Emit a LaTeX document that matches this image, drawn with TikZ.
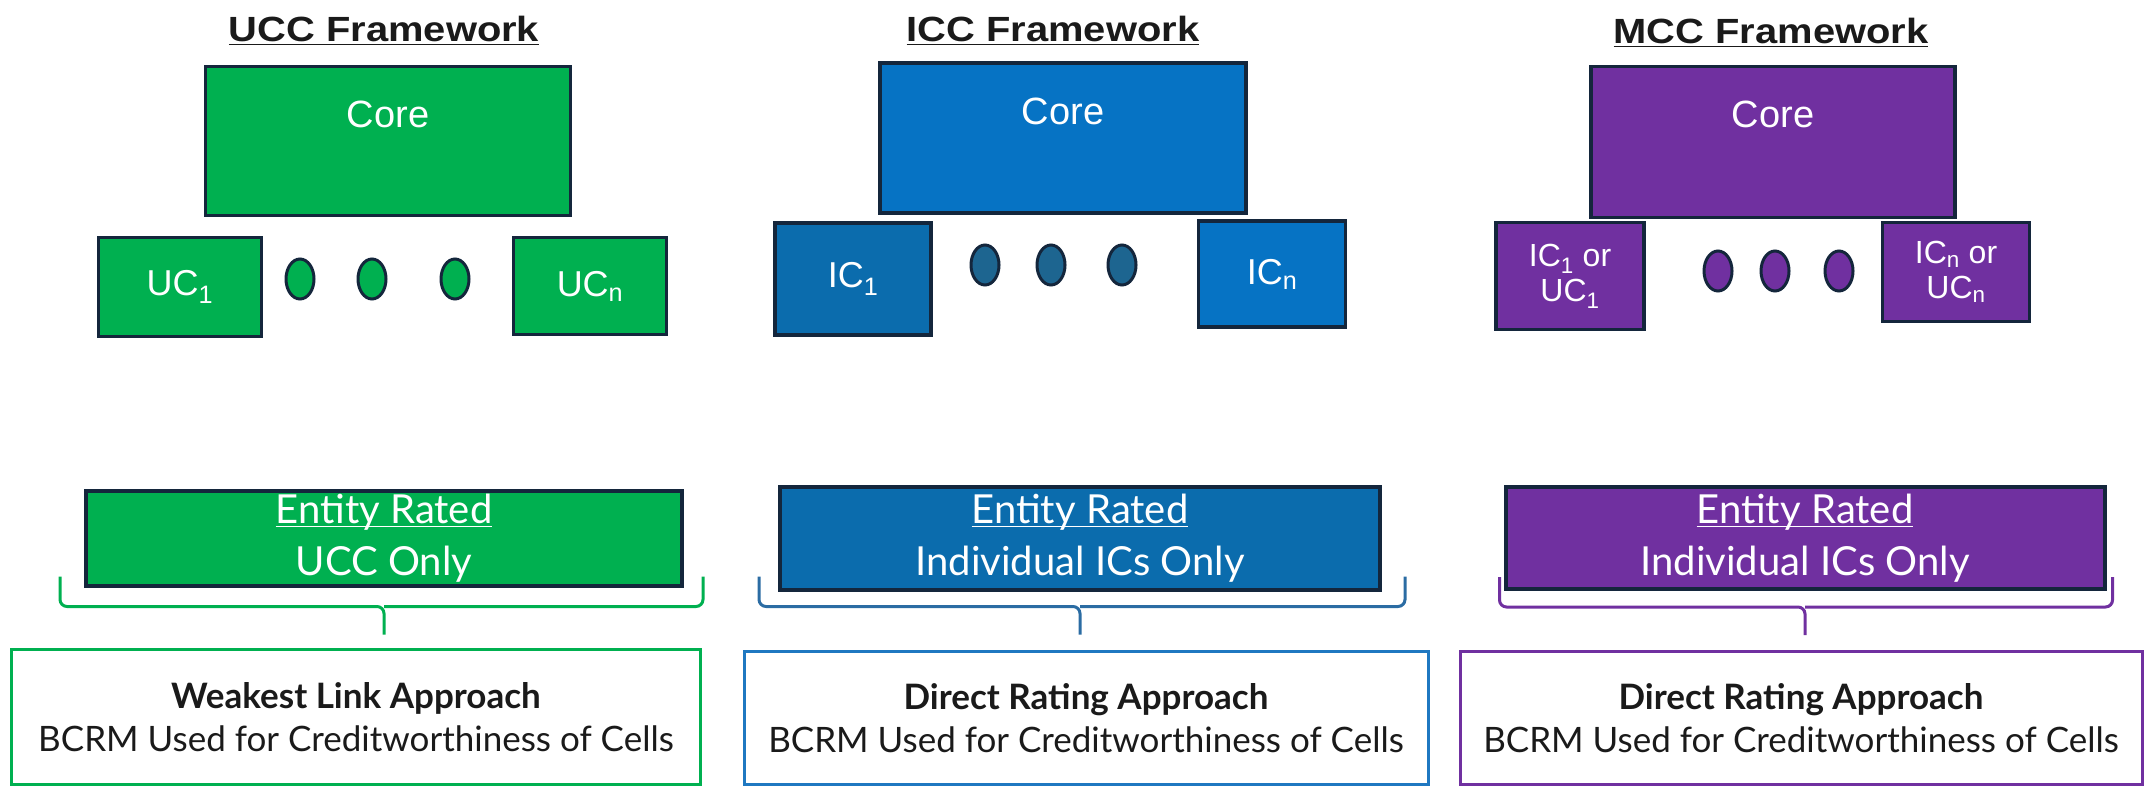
\documentclass[tikz,border=0pt]{standalone}
\usepackage{amsmath}
\usepackage{fontspec}
\setmainfont{Liberation Sans}
\newfontfamily\headfont[FakeStretch=1.14]{Liberation Sans}
\newfontfamily\aptos{Lato}
\usetikzlibrary{positioning,calc,shapes.geometric}

\definecolor{uccgreen}{HTML}{00B050}
\definecolor{iccblue}{HTML}{0673C4}
\definecolor{iccdark}{HTML}{0B6CAD}
\definecolor{iccdot}{HTML}{1D6590}
\definecolor{iccline}{HTML}{1F78C1}
\definecolor{iccbrace}{HTML}{2B6CA3}
\definecolor{mccpurple}{HTML}{7030A0}
\definecolor{edgenavy}{HTML}{14263C}
\definecolor{inkgray}{HTML}{1A1A1A}

\newcommand{\ratedhead}{\underline{\smash[b]{Entity Rated}}}

\tikzset{
  cellbox/.style={draw=edgenavy, line width=3.5pt, fill=#1, text=white, font=\fontsize{36}{40}\selectfont, align=center, inner sep=0pt},
  corebox/.style={cellbox=#1, label={[text=white, font=\fontsize{38}{44}\selectfont, anchor=center, yshift=-50pt]north:Core}},
  celldot/.style={ellipse, draw=edgenavy, line width=3pt, fill=#1, minimum width=28pt, minimum height=40pt, inner sep=0pt},
  fwtitle/.style={text=inkgray, font=\headfont\bfseries\fontsize{35}{40}\selectfont},
  ratedbox/.style={draw=edgenavy, line width=4pt, fill=#1, text=white, font=\aptos\fontsize{40}{52}\selectfont, align=center, inner sep=0pt},
  approachbox/.style={draw=#1, line width=3pt, fill=white, text=inkgray, font=\aptos\fontsize{35}{43}\selectfont, align=center, inner sep=0pt},
  curlybrace/.style={draw=#1, line width=3pt, rounded corners=7pt},
}

\begin{document}
\begin{tikzpicture}[x=1pt, y=-1pt]
    \useasboundingbox (0,0) rectangle (2151,787);

    % UCC framework
    \node[fwtitle] (utitle) at (384,31) {\underline{UCC Framework}};
    \node[corebox=uccgreen, minimum width=365pt, minimum height=149pt] (ucore) at (388,141) {};
    \node[cellbox=uccgreen, minimum width=163pt, minimum height=99pt] (ucell1) at (180,287) {UC\textsubscript{1}};
    \foreach \x [count=\i] in {300,372,455}
        \node[celldot=uccgreen] (udot\i) at (\x,279) {};
    \node[cellbox=uccgreen, minimum width=153pt, minimum height=97pt] (ucelln) at (590,286) {UC\textsubscript{n}};

    % ICC framework
    \node[fwtitle] (ititle) at (1053,31) {\underline{ICC Framework}};
    \node[corebox=iccblue, minimum width=366pt, minimum height=150pt] (icore) at (1063,138) {};
    \node[cellbox=iccdark, minimum width=156pt, minimum height=112pt] (icell1) at (853,279) {IC\textsubscript{1}};
    \foreach \x [count=\i] in {985,1051,1122}
        \node[celldot=iccdot] (idot\i) at (\x,265) {};
    \node[cellbox=iccblue, minimum width=147pt, minimum height=106pt] (icelln) at (1272,274) {IC\textsubscript{n}};

    % MCC framework
    \node[fwtitle] (mtitle) at (1771,33) {\underline{MCC Framework}};
    \node[corebox=mccpurple, minimum width=364pt, minimum height=151pt] (mcore) at (1773,142) {};
    \node[cellbox=mccpurple, font=\fontsize{32}{35}\selectfont, minimum width=148pt, minimum height=107pt] (mcell1) at (1570,276) {IC\textsubscript{1} or\\UC\textsubscript{1}};
    \foreach \x [count=\i] in {1718,1775,1839}
        \node[celldot=mccpurple] (mdot\i) at (\x,271) {};
    \node[cellbox=mccpurple, font=\fontsize{32}{35}\selectfont, minimum width=147pt, minimum height=99pt] (mcelln) at (1956,272) {IC\textsubscript{n} or\\UC\textsubscript{n}};

    % Rating boxes
    \node[ratedbox=uccgreen, minimum width=596pt, minimum height=95pt] (urated) at (384,538) {\ratedhead\\UCC Only};
    \node[ratedbox=iccdark, minimum width=600pt, minimum height=103pt] (irated) at (1080,538) {\ratedhead\\Individual ICs Only};
    \node[ratedbox=mccpurple, minimum width=599pt, minimum height=102pt] (mrated) at (1805,538) {\ratedhead\\Individual ICs Only};

    % Approach boxes
    \node[approachbox=uccgreen, minimum width=689pt, minimum height=135pt] (uapproach) at (356,717) {\textbf{Weakest Link Approach}\\BCRM Used for Creditworthiness of Cells};
    \node[approachbox=iccline, minimum width=684pt, minimum height=133pt] (iapproach) at (1086,718) {\textbf{Direct Rating Approach}\\BCRM Used for Creditworthiness of Cells};
    \node[approachbox=mccpurple, minimum width=682pt, minimum height=133pt] (mapproach) at (1801,718) {\textbf{Direct Rating Approach}\\BCRM Used for Creditworthiness of Cells};

    % Braces
    \draw[curlybrace=uccgreen] ($(urated.south west)+(-24,-11)$) |- ($(urated.south)+(0,19)$) -- ($(urated.south)+(0,47)$);
    \draw[curlybrace=uccgreen] ($(urated.south east)+(19,-11)$) |- ($(urated.south)+(0,19)$);
    \draw[curlybrace=iccbrace] ($(irated.south west)+(-19,-15)$) |- ($(irated.south)+(0,15)$) -- ($(irated.south)+(0,43)$);
    \draw[curlybrace=iccbrace] ($(irated.south east)+(23,-15)$) |- ($(irated.south)+(0,15)$);
    \draw[curlybrace=mccpurple] ($(mrated.south west)+(-4,-14)$) |- ($(mrated.south)+(0,16)$) -- ($(mrated.south)+(0,44)$);
    \draw[curlybrace=mccpurple] ($(mrated.south east)+(6,-14)$) |- ($(mrated.south)+(0,16)$);
\end{tikzpicture}
\end{document}
